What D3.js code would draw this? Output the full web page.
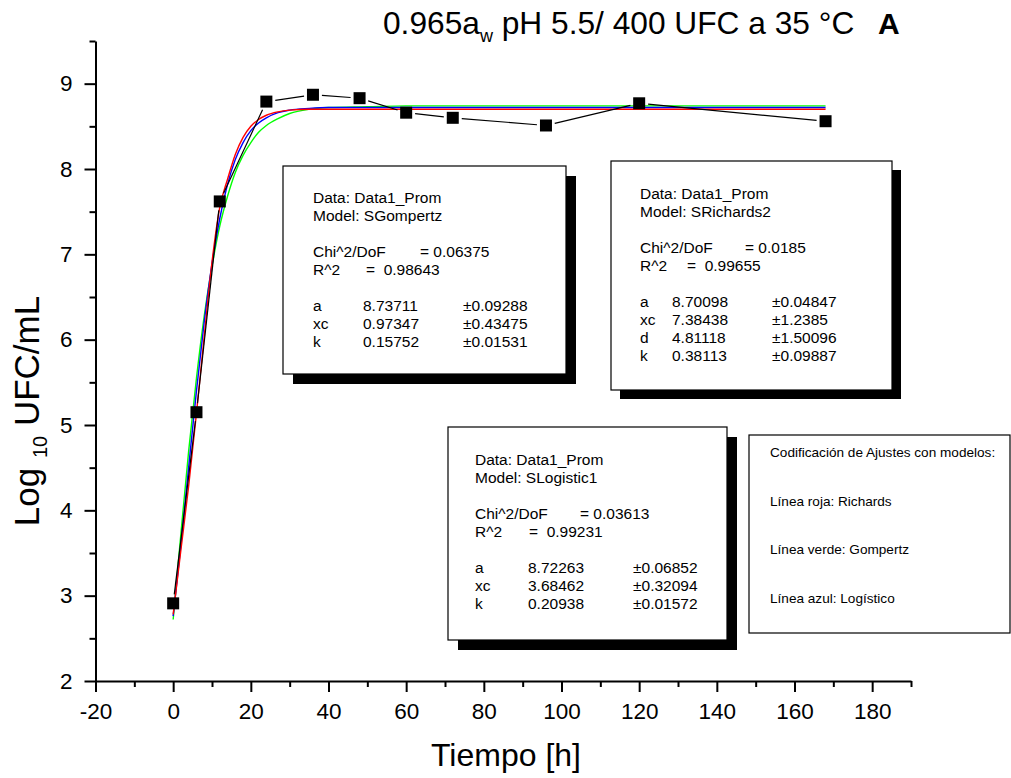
<!DOCTYPE html>
<meta charset="utf-8">
<script src="https://d3js.org/d3.v7.min.js"></script>
<style>
  body { margin: 0; background: #fff; }
  text { font-family: Arial, "Liberation Sans", Helvetica, sans-serif; fill: #000; }
</style>
<body>
<div id="draw"></div>
<script>
  // measured points (Log10 UFC/mL vs time)
  var timeH = [0, 6, 12, 24, 36, 48, 60, 72, 96, 120, 168];
  var logUFC = [2.91, 5.15, 7.62, 8.79, 8.87, 8.83, 8.66, 8.60, 8.51, 8.77, 8.56];

  // fitted curves
  var fitX = [0, 2, 4, 6, 8, 10, 12, 14, 16, 18, 20, 22, 24, 27, 30, 35, 40, 50, 60, 168];
  var richards = [2.78, 3.54, 4.29, 5.14, 6.04, 6.91, 7.55, 7.88, 8.17, 8.37, 8.50, 8.58, 8.63, 8.67, 8.69, 8.70, 8.70, 8.70, 8.70, 8.70];
  var gompertz = [2.72, 3.73, 4.70, 5.55, 6.28, 6.86, 7.33, 7.68, 7.96, 8.16, 8.31, 8.43, 8.51, 8.59, 8.65, 8.70, 8.72, 8.73, 8.74, 8.74];
  var logistic = [2.76, 3.60, 4.51, 5.40, 6.21, 6.89, 7.42, 7.82, 8.11, 8.31, 8.45, 8.54, 8.60, 8.66, 8.69, 8.71, 8.72, 8.72, 8.72, 8.72];

  var xTicks = [-20, 0, 20, 40, 60, 80, 100, 120, 140, 160, 180];
  var xMinor = [-10, 10, 30, 50, 70, 90, 110, 130, 150, 170, 190];
  var yTicks = [2, 3, 4, 5, 6, 7, 8, 9];
  var yMinor = [2.5, 3.5, 4.5, 5.5, 6.5, 7.5, 8.5, 9.5];

  // fit result boxes
  var boxGompertz = [
    ["Data: Data1_Prom"], ["Model: SGompertz"], [],
    ["Chi^2/DoF", "= 0.06375"], ["R^2", "=  0.98643"], [],
    ["a", "8.73711", "\u00b10.09288"], ["xc", "0.97347", "\u00b10.43475"], ["k", "0.15752", "\u00b10.01531"]
  ];
  var boxRichards = [
    ["Data: Data1_Prom"], ["Model: SRichards2"], [],
    ["Chi^2/DoF", "= 0.0185"], ["R^2", "=  0.99655"], [],
    ["a", "8.70098", "\u00b10.04847"], ["xc", "7.38438", "\u00b11.2385"],
    ["d", "4.81118", "\u00b11.50096"], ["k", "0.38113", "\u00b10.09887"]
  ];
  var boxLogistic = [
    ["Data: Data1_Prom"], ["Model: SLogistic1"], [],
    ["Chi^2/DoF", "= 0.03613"], ["R^2", "=  0.99231"], [],
    ["a", "8.72263", "\u00b10.06852"], ["xc", "3.68462", "\u00b10.32094"], ["k", "0.20938", "\u00b10.01572"]
  ];
  var codeLines = ["Codificaci\u00f3n de Ajustes con modelos:", "L\u00ednea roja: Richards", "L\u00ednea verde: Gompertz", "L\u00ednea azul: Log\u00edstico"];

  var width = 1011, height = 778;

  var svg = d3.select("#draw").append("svg")
    .attr("width", width).attr("height", height);

  var x = d3.scaleLinear().domain([-20, 190]).range([95.5, 911]);
  var y = d3.scaleLinear().domain([2, 9.5]).range([681, 41]);

  // axes
  var xAxis = svg.append("g").attr("transform", "translate(0," + y(2) + ")");
  xAxis.call(d3.axisBottom(x).tickValues(xTicks).tickSize(11).tickSizeOuter(0).tickPadding(11).tickFormat(function(d){ return String(d); }));
  xAxis.append("g").call(d3.axisBottom(x).tickValues(xMinor).tickSize(6).tickFormat(""))
    .select(".domain").remove();
  xAxis.selectAll("path, line").attr("stroke", "#000").attr("stroke-width", 2);
  xAxis.selectAll("text").style("font-size", "22.5px").attr("font-family", null);

  var yAxis = svg.append("g").attr("transform", "translate(" + x(-20) + ",0)");
  yAxis.call(d3.axisLeft(y).tickValues(yTicks).tickSize(11).tickSizeOuter(0).tickPadding(12).tickFormat(function(d){ return String(d); }));
  yAxis.append("g").call(d3.axisLeft(y).tickValues(yMinor).tickSize(6).tickFormat(""))
    .select(".domain").remove();
  yAxis.selectAll("path, line").attr("stroke", "#000").attr("stroke-width", 2);
  yAxis.selectAll("text").style("font-size", "22.5px").attr("font-family", null);

  // fitted curves
  var fitLine = function(vals){
    return d3.line().curve(d3.curveMonotoneX)
      .x(function(d, i){ return x(fitX[i]); })
      .y(function(d){ return y(d); })(vals);
  };
  var fits = [
    {vals: gompertz, color: "#00ff00"},
    {vals: logistic, color: "#0000ff"},
    {vals: richards, color: "#ff0000"}
  ];
  svg.selectAll("path.fit").data(fits).enter().append("path")
    .attr("class", "fit")
    .attr("d", function(d){ return fitLine(d.vals); })
    .attr("fill", "none")
    .attr("stroke", function(d){ return d.color; })
    .attr("stroke-width", 1.4);

  // data line with gaps at the symbols
  var pts = timeH.map(function(t, i){ return {px: x(t), py: y(logUFC[i])}; });
  var gap = 9, segs = [];
  for (var i = 0; i < pts.length - 1; i++) {
    var p0 = pts[i], p1 = pts[i + 1];
    var dx = p1.px - p0.px, dy = p1.py - p0.py;
    var len = Math.sqrt(dx * dx + dy * dy);
    if (len <= 2 * gap) continue;
    segs.push({
      x1: p0.px + dx / len * gap, y1: p0.py + dy / len * gap,
      x2: p1.px - dx / len * gap, y2: p1.py - dy / len * gap
    });
  }
  svg.selectAll("line.seg").data(segs).enter().append("line")
    .attr("class", "seg")
    .attr("x1", function(d){ return d.x1; }).attr("y1", function(d){ return d.y1; })
    .attr("x2", function(d){ return d.x2; }).attr("y2", function(d){ return d.y2; })
    .attr("stroke", "#000").attr("stroke-width", 1.2);

  svg.selectAll("rect.pt").data(pts).enter().append("rect")
    .attr("class", "pt")
    .attr("x", function(d){ return d.px - 6; })
    .attr("y", function(d){ return d.py - 6; })
    .attr("width", 12).attr("height", 12)
    .attr("fill", "#000");

  // text boxes
  function drawBox(rows, bx, by, bw, bh, tx, ty, cols, eqCols, shadow){
    var g = svg.append("g");
    if (shadow) {
      g.append("rect").attr("x", bx + shadow).attr("y", by + shadow)
        .attr("width", bw).attr("height", bh).attr("fill", "#000");
    }
    g.append("rect").attr("x", bx).attr("y", by).attr("width", bw).attr("height", bh)
      .attr("fill", "#fff").attr("stroke", "#000").attr("stroke-width", 1.2);
    var lh = 18;
    rows.forEach(function(r, i){
      if (!r.length) return;
      var yy = ty + i * lh;
      var isEq = r.length === 2;
      r.forEach(function(s, j){
        var xx = j === 0 ? tx : (isEq ? eqCols[i === 3 ? 0 : 1] : cols[j - 1]);
        g.append("text").attr("x", xx).attr("y", yy)
          .style("font-size", "15.5px").style("white-space", "pre").text(s);
      });
    });
  }

  drawBox(boxGompertz, 283, 166, 283, 208, 313, 203, [363, 463], [420, 366], 10);
  drawBox(boxRichards, 611, 161, 281, 229, 640, 199, [672, 772], [745, 687], 9);
  drawBox(boxLogistic, 448, 427, 279, 213, 475, 465, [528, 633], [580, 529], 10);

  var code = svg.append("g");
  code.append("rect").attr("x", 749).attr("y", 435).attr("width", 261).attr("height", 198)
    .attr("fill", "#fff").attr("stroke", "#000").attr("stroke-width", 1.2);
  code.selectAll("text").data(codeLines).enter().append("text")
    .attr("x", 770).attr("y", function(d, i){ return 457 + i * 48.7; })
    .style("font-size", "13.6px").text(function(d){ return d; });

  // title
  var title = svg.append("text").attr("x", 383).attr("y", 34).style("font-size", "31.7px");
  title.append("tspan").text("0.965a");
  title.append("tspan").attr("dy", 8).style("font-size", "18px").text("w");
  title.append("tspan").attr("dy", -8).text(" pH 5.5/ 400 UFC a 35 \u00b0C");
  svg.append("text").attr("x", 878).attr("y", 34).style("font-size", "30px")
    .style("font-weight", "bold").text("A");

  // axis titles
  svg.append("text").attr("x", 506).attr("y", 766).attr("text-anchor", "middle")
    .style("font-size", "32px").text("Tiempo [h]");

  var yl = svg.append("text").attr("transform", "translate(39,411) rotate(-90)")
    .attr("text-anchor", "middle").style("font-size", "35px");
  yl.append("tspan").text("Log ");
  yl.append("tspan").attr("dy", 8).style("font-size", "20px").text("10");
  yl.append("tspan").attr("dy", -8).text(" UFC/mL");
</script>
</body>
